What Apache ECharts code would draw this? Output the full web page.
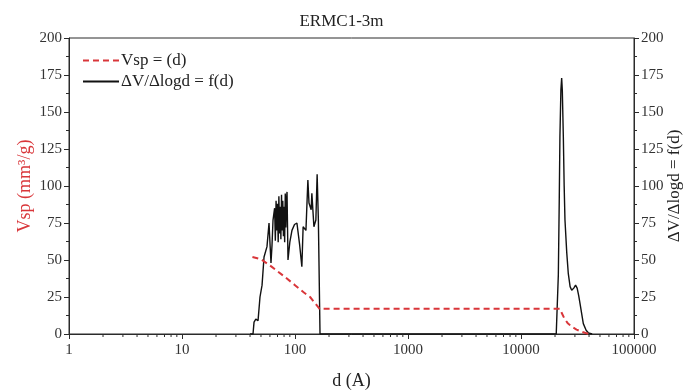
<!DOCTYPE html>
<html>
<head>
<meta charset="utf-8">
<script src="https://cdn.jsdelivr.net/npm/echarts@6/dist/echarts.min.js"></script>
<style>
html,body{margin:0;padding:0;background:#fff;}
#chart{width:683px;height:390px;}
</style>
</head>
<body>
<div id="chart"></div>
<script>
// ---- data ----
const titleText = 'ERMC1-3m';
const xTickValues = [1, 10, 100, 1000, 10000, 100000];
const xMinorTickValues = [2,3,4,5,6,7,8,9,20,30,40,50,60,70,80,90,200,300,400,500,600,700,800,900,2000,3000,4000,5000,6000,7000,8000,9000,20000,30000,40000,50000,60000,70000,80000,90000];

const vspD = [42, 50, 62, 80, 100, 120, 136, 150, 165, 22100, 23000, 24200, 25800, 28000, 31000, 35000, 40000];
const vspV = [52, 50.5, 45.5, 39, 33, 28, 25, 21, 17, 17, 14, 10.5, 7.5, 5, 3, 1.3, 0];

const dvD = [40, 42.5, 43.4, 45, 47.1, 49, 51.1, 53.2, 56.5, 58.9, 60.1, 61.3, 62.6, 63.9,
  66, 67, 68, 69, 70, 71, 72, 73, 74, 75, 76, 77, 78, 79, 80, 81, 82, 83, 84, 85,
  86.7, 90, 94, 99, 104, 110, 115, 118, 125, 130, 133, 139, 141, 147, 153, 157, 161, 164, 166.5,
  20500, 20800, 21400, 21800, 22100, 22550, 22900, 23200, 23700, 24100, 24500, 25400, 26200, 27200,
  28100, 29300, 30400, 31400, 32400, 33300, 35600, 37700, 39400, 42600];
const dvV = [0, 0, 8, 10, 9, 25, 33, 52, 59, 75, 61, 48, 60, 77,
  85, 63, 90, 70, 88, 62, 93, 68, 86, 64, 94, 70, 90, 66, 86, 62, 95, 72, 90, 96,
  50, 62, 70, 74, 75, 60, 45.5, 72.5, 70, 104, 88.5, 84, 95, 72.5, 77, 108, 77, 76, 0,
  0, 0.5, 40, 90, 133, 165, 173, 165, 133, 100, 77, 55, 41, 32,
  29.5, 31, 33, 31, 26, 20.5, 7, 2.5, 0.8, 0];

const yTicks = [0, 25, 50, 75, 100, 125, 150, 175, 200];

const serif = '"Liberation Serif", "DejaVu Serif", serif';
const axisColor = '#2b2b2b';

function zip(a, b) { return a.map((v, i) => [v, b[i]]); }

const chart = echarts.init(document.getElementById('chart'), null, {renderer: 'canvas'});

const yAxisCommon = {
  type: 'value', min: yTicks[0], max: yTicks[yTicks.length - 1], interval: 25,
  axisLine: {show: true, lineStyle: {color: axisColor, width: 1}},
  axisTick: {show: true, length: 5, lineStyle: {color: axisColor}},
  minorTick: {show: true, splitNumber: 2, length: 3, lineStyle: {color: axisColor}},
  splitLine: {show: false},
  axisLabel: {fontFamily: serif, fontSize: 15, color: '#333', margin: 7},
  nameLocation: 'middle', nameRotate: 90, nameMoveOverlap: false,
  nameTextStyle: {fontFamily: serif, fontSize: 18}
};

chart.setOption({
  animation: false,
  backgroundColor: '#fff',
  title: {
    text: titleText, left: 'center', top: 8,
    textStyle: {fontFamily: serif, fontSize: 17, fontWeight: 'normal', color: '#222'}
  },
  grid: {left: 69, right: 49, top: 38, bottom: 56, show: true, borderColor: axisColor, borderWidth: 1,
    backgroundColor: 'transparent', containLabel: false, outerBoundsMode: 'none'},
  legend: {
    orient: 'vertical', left: 77, top: 47, itemWidth: 36, itemHeight: 14, itemGap: 4,
    itemStyle: {opacity: 0, borderWidth: 0},
    textStyle: {fontFamily: serif, fontSize: 17, color: '#222', padding: [0, 0, 0, -3]},
    data: ['Vsp = (d)', 'ΔV/Δlogd = f(d)']
  },
  xAxis: {
    type: 'log', logBase: 10, min: xTickValues[0], max: xTickValues[xTickValues.length - 1],
    name: 'd (A)', nameLocation: 'middle', nameGap: 38, nameMoveOverlap: false,
    nameTextStyle: {fontFamily: serif, fontSize: 18, color: '#222'},
    axisLine: {show: true, lineStyle: {color: axisColor}},
    axisTick: {show: true, length: 5, lineStyle: {color: axisColor}},
    splitLine: {show: false},
    axisLabel: {fontFamily: serif, fontSize: 15, color: '#333', margin: 9,
      formatter: v => String(Math.round(v))}
  },
  yAxis: [
    Object.assign({}, yAxisCommon, {
      position: 'left', name: 'Vsp (mm³/g)', nameGap: 35,
      nameTextStyle: {fontFamily: serif, fontSize: 18, color: '#d9363a'}
    }),
    Object.assign({}, yAxisCommon, {
      position: 'right', name: 'ΔV/Δlogd = f(d)', nameGap: 32,
      nameTextStyle: {fontFamily: serif, fontSize: 17, color: '#222'}
    })
  ],
  series: [
    {
      name: 'Vsp = (d)', type: 'line', yAxisIndex: 0, symbol: 'none', z: 3,
      lineStyle: {color: '#d9363a', width: 2, type: [6, 4]},
      itemStyle: {color: '#d9363a'},
      data: zip(vspD, vspV)
    },
    {
      name: 'ΔV/Δlogd = f(d)', type: 'line', yAxisIndex: 1, symbol: 'none', z: 2,
      lineStyle: {color: '#111', width: 1.4},
      itemStyle: {color: '#111'},
      data: zip(dvD, dvV)
    },
    {
      name: 'minorTicks', type: 'custom', silent: true, clip: false, z: 5,
      data: xMinorTickValues.map(v => [v, 0]),
      renderItem: function (params, api) {
        const p = api.coord([api.value(0), 0]);
        return {type: 'line', shape: {x1: p[0], y1: p[1], x2: p[0], y2: p[1] + 3},
          style: {stroke: axisColor, lineWidth: 1}};
      }
    }
  ]
});
</script>
</body>
</html>
